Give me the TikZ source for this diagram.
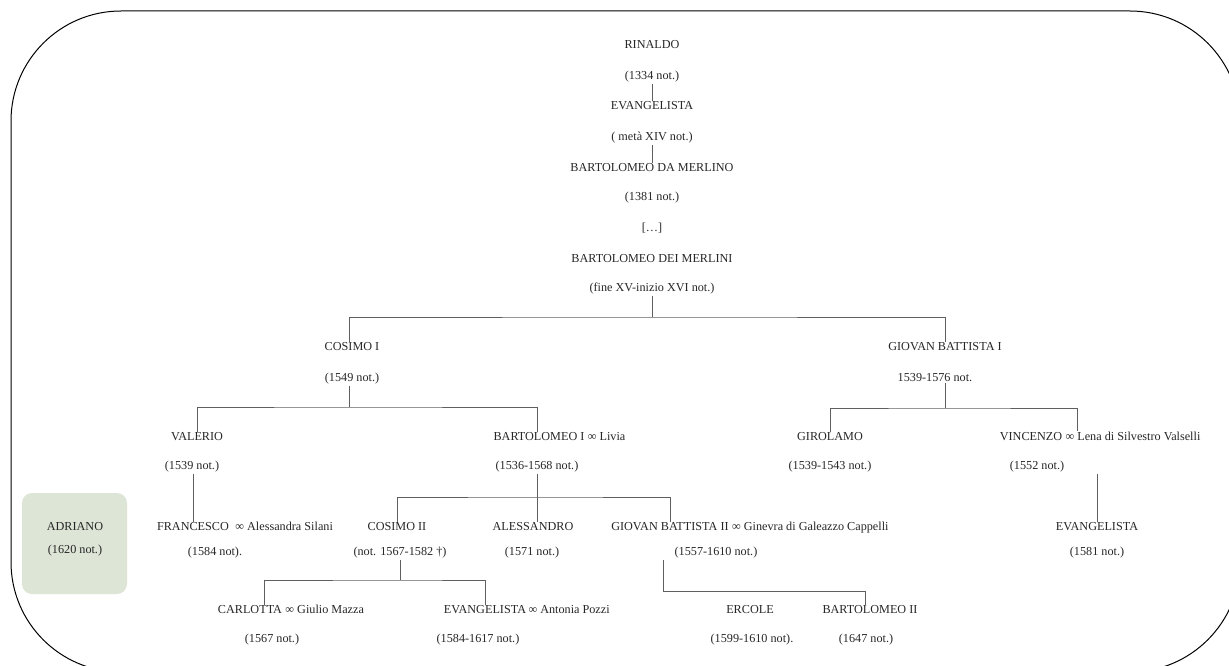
\documentclass[tikz,border=0pt]{standalone}
\usepackage{fontspec}
\setmainfont{Liberation Serif}
\definecolor{boxgreen}{RGB}{221,229,214}
\definecolor{linecol}{RGB}{95,95,95}
\begin{document}
\begin{tikzpicture}[x=1pt,y=-1pt,
  txt/.style={font=\fontsize{12.2}{14}\selectfont, inner sep=1pt, text=black!85},
  spouse/.style={txt, anchor=base west, xshift=-2pt},
  conn/.style={draw=linecol, line width=0.7pt},
  frame/.style={draw=black, line width=1pt, rounded corners=110pt}]
\useasboundingbox (0,0) rectangle (1229,666);
\clip (0,0) rectangle (1229,666);
\draw[frame] (11,11) rectangle (1240,672);

% top chain
\node[txt] (rin) at (652,45) {RINALDO};
\node[txt] (d1334) at (652,77) {(1334 not.)};
\node[txt] (evA) at (652,106) {EVANGELISTA};
\node[txt] (dmeta) at (652,138) {( metà XIV not.)};
\node[txt] (bdm) at (652,168) {BARTOLOMEO DA MERLINO};
\node[txt] (d1381) at (652,198) {(1381 not.)};
\node[txt] (dots) at (652,228) {[…]};
\node[txt] (bdmi) at (652,259) {BARTOLOMEO DEI MERLINI};
\node[txt] (dfine) at (652,289) {(fine XV-inizio XVI not.)};
\draw[conn] (d1334) -- (evA);
\draw[conn] (dmeta) -- (bdm);

% generation 1
\node[txt] (cos1) at (352,347) {COSIMO I};
\node[txt] (d1549) at (352,379) {(1549 not.)};
\node[txt] (gb1) at (945,347) {GIOVAN BATTISTA I};
\node[txt] (d1539g) at (935,378) {1539-1576 not.};
\coordinate (b1) at (652,317);
\draw[conn] (dfine.south) -- (b1);
\draw[conn] ([xshift=-3pt]cos1.north) |- (b1) -| (gb1.north);

% generation 2, left
\node[txt] (val) at (197,437) {VALERIO};
\node[txt] (d1539v) at (192,467) {(1539 not.)};
\node[txt] (bart1) at (539,437) {BARTOLOMEO I};
\node[spouse] (bart1s) at (bart1.base east) {\ ∞ Livia};
\node[txt] (d1536) at (537,467) {(1536-1568 not.)};
\coordinate (b2) at (349,407);
\draw[conn] (d1549.south -| b2) -- (b2);
\draw[conn] (val.north) |- (b2) -| ([xshift=-2pt]bart1.north);

% generation 2, right
\node[txt] (gir) at (830,437) {GIROLAMO};
\node[txt] (d1539b) at (830,467) {(1539-1543 not.)};
\node[txt] (vin) at (1031,437) {VINCENZO};
\node[spouse] (vins) at (vin.base east) {\ ∞ Lena di Silvestro Valselli};
\node[txt] (d1552) at (1037,467) {(1552 not.)};
\coordinate (b3) at (945,408);
\draw[conn] (d1539g.south -| b3) -- (b3);
\draw[conn] (gir.north) |- (b3) -| ([xshift=16pt]vins.north west);

% generation 3
\node[fill=boxgreen, rounded corners=10pt, minimum width=105pt, minimum height=101pt, inner sep=0pt] (adbox) at (74.5,543.5) {};
\node[txt] (adr) at (75,527) {ADRIANO};
\node[txt] (d1620) at (75,551) {(1620 not.)};

\node[txt] (fran) at (193,527) {FRANCESCO};
\node[spouse] (frans) at (fran.base east) {\ \ ∞ Alessandra Silani};
\node[txt] (d1584) at (215,553) {(1584 not).};
\draw[conn] (d1539v.south -| fran.north) -- (fran.north);

\node[txt] (cos2) at (397,527) {COSIMO II};
\node[txt] (d1567c) at (400,553) {(not. 1567-1582 †)};
\node[txt] (ales) at (533,527) {ALESSANDRO};
\node[txt] (d1571) at (532,553) {(1571 not.)};
\node[txt] (gb2) at (670,527) {GIOVAN BATTISTA II};
\node[spouse] (gb2s) at (gb2.base east) {\ ∞ Ginevra di Galeazzo Cappelli};
\node[txt] (d1557) at (716,553) {(1557-1610 not.)};
\coordinate (b4) at (537,497);
\draw[conn] (d1536.south) -- (d1536.south |- ales.north);
\draw[conn] (cos2.north) |- (b4) -| (gb2.north);

\node[txt] (evR) at (1097,527) {EVANGELISTA};
\node[txt] (d1581) at (1097,553) {(1581 not.)};
\draw[conn] (d1552.south -| evR.north) -- (evR.north);

% generation 4
\node[txt] (carl) at (250,610) {CARLOTTA};
\node[spouse] (carls) at (carl.base east) {\ ∞ Giulio Mazza};
\node[txt] (d1567) at (272,640) {(1567 not.)};
\node[txt] (evC) at (485,610) {EVANGELISTA};
\node[spouse] (evCs) at (evC.base east) {\,∞ Antonia Pozzi};
\node[txt] (d1584b) at (478,640) {(1584-1617 not.)};
\coordinate (b5) at (400,580);
\draw[conn] (d1567c.south) -- (b5);
\draw[conn] ([xshift=14pt]carl.north) |- (b5) -| (evC.north);

\node[txt] (erc) at (750,610) {ERCOLE};
\node[txt] (d1599) at (752,640) {(1599-1610 not).};
\node[txt] (bart2) at (870,610) {BARTOLOMEO II};
\node[txt] (d1647) at (866,640) {(1647 not.)};
\coordinate (b6) at (663,591);
\draw[conn] (d1557.south -| b6) -- (b6) -| ([xshift=-5pt]bart2.north);
\end{tikzpicture}
\end{document}
